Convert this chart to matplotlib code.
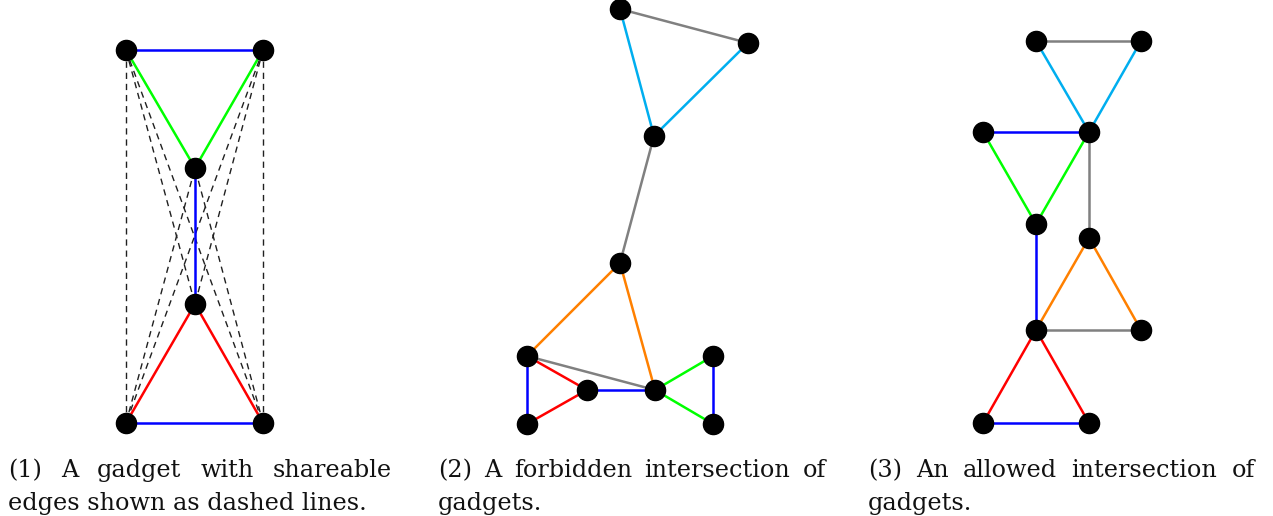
import matplotlib
matplotlib.use("Agg")
import matplotlib.pyplot as plt

# node positions (pixel coords, y down)
gadget_nodes = {
    "tl": (126, 50), "tr": (263, 50),
    "um": (195, 168), "lm": (195, 304),
    "bl": (126, 423), "br": (263, 423),
}
gadget_edges = [
    ("tl", "tr", "blue"), ("tl", "um", "green"), ("tr", "um", "green"),
    ("um", "lm", "blue"), ("lm", "bl", "red"), ("lm", "br", "red"),
    ("bl", "br", "blue"),
]
gadget_shared = [
    ("tl", "bl"), ("tr", "br"), ("tl", "br"), ("tr", "bl"),
    ("tl", "lm"), ("tr", "lm"), ("bl", "um"), ("br", "um"),
]

forbidden_nodes = {
    "a": (620, 9), "b": (748, 43), "c": (654, 136), "d": (620, 263),
    "e": (527, 356), "f": (587, 390), "g": (655, 390), "h": (713, 356),
    "i": (527, 424), "j": (713, 424),
}
forbidden_edges = [
    ("a", "b", "gray"), ("a", "c", "cyan"), ("b", "c", "cyan"),
    ("c", "d", "gray"), ("d", "e", "orange"), ("d", "g", "orange"),
    ("e", "g", "gray"), ("e", "f", "red"), ("f", "i", "red"),
    ("e", "i", "blue"), ("f", "g", "blue"), ("g", "h", "green"),
    ("g", "j", "green"), ("h", "j", "blue"),
]

allowed_nodes = {
    "p": (1036, 41), "q": (1141, 41), "r": (1089, 132), "s": (983, 132),
    "t": (1036, 224), "u": (1089, 238), "v": (1036, 330), "w": (1141, 330),
    "x": (983, 423), "y": (1089, 423),
}
allowed_edges = [
    ("p", "q", "gray"), ("p", "r", "cyan"), ("q", "r", "cyan"),
    ("s", "r", "blue"), ("s", "t", "green"), ("r", "t", "green"),
    ("r", "u", "gray"), ("t", "v", "blue"), ("u", "v", "orange"),
    ("u", "w", "orange"), ("v", "w", "gray"), ("v", "x", "red"),
    ("v", "y", "red"), ("x", "y", "blue"),
]

captions = [
    ("(1) A gadget with shareable", "edges shown as dashed lines."),
    ("(2) A forbidden intersection of", "gadgets."),
    ("(3) An allowed intersection of", "gadgets."),
]
caption_span = [(8, 392), (438, 826), (868, 1255)]

colors = {
    "blue": "#0000ff", "green": "#00ff00", "red": "#ff0000",
    "orange": "#ff8000", "cyan": "#00aeef", "gray": "#808080",
}

fig = plt.figure(figsize=(12.73, 5.16), dpi=100)
ax = fig.add_axes([0, 0, 1, 1])
ax.set_xlim(0, 1273)
ax.set_ylim(516, 0)
ax.axis("off")


def draw_graph(nodes, edges, dashed=()):
    for u, v in dashed:
        (x1, y1), (x2, y2) = nodes[u], nodes[v]
        ax.plot([x1, x2], [y1, y2], color="#202020", lw=1.0,
                dashes=(4.5, 3.5), zorder=1)
    for u, v, c in edges:
        (x1, y1), (x2, y2) = nodes[u], nodes[v]
        ax.plot([x1, x2], [y1, y2], color=colors[c], lw=1.8, zorder=2)
    xs = [p[0] for p in nodes.values()]
    ys = [p[1] for p in nodes.values()]
    ax.plot(xs, ys, "o", color="black", ms=14.5, zorder=3)


draw_graph(gadget_nodes, gadget_edges, gadget_shared)
draw_graph(forbidden_nodes, forbidden_edges)
draw_graph(allowed_nodes, allowed_edges)

# captions, first line justified across the column
fs = 17.2
fig.canvas.draw()
renderer = fig.canvas.get_renderer()
for (line1, line2), (left, right) in zip(captions, caption_span):
    words = line1.split()
    texts = [ax.text(0, 477, w, fontsize=fs, family="DejaVu Serif",
                     va="baseline", ha="left", color="#111111")
             for w in words]
    widths = [t.get_window_extent(renderer).width for t in texts]
    gap = (right - left - sum(widths)) / (len(words) - 1)
    x = left
    for t, w in zip(texts, widths):
        t.set_x(x)
        x += w + gap
    ax.text(left, 510, line2, fontsize=fs, family="DejaVu Serif",
            va="baseline", ha="left", color="#111111")

fig.savefig("out.png", dpi=100)
